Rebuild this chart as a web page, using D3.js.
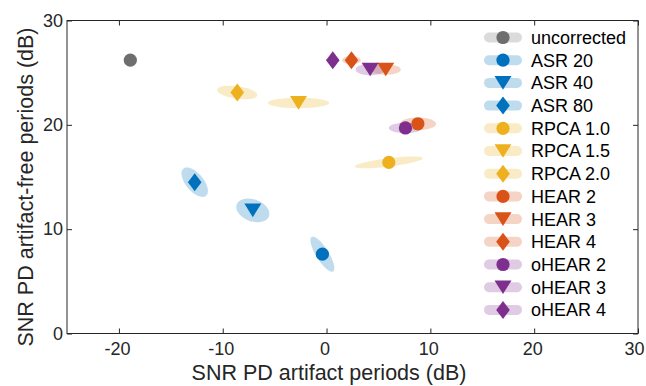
<!DOCTYPE html>
<html>
<head>
<meta charset="utf-8">
<script src="https://cdn.jsdelivr.net/npm/d3@7"></script>
<style>
body { margin: 0; background: #fff; }
svg { font-family: "Liberation Sans", Arial, sans-serif; }
.axis line { stroke: #262626; }
.axis text { fill: #262626; font-size: 18px; }
.label { fill: #262626; font-size: 21.5px; }
.legend text { fill: #000; font-size: 18px; }
</style>
</head>
<body>
<script>
var methods = ["uncorrected", "ASR 20", "ASR 40", "ASR 80", "RPCA 1.0", "RPCA 1.5", "RPCA 2.0",
    "HEAR 2", "HEAR 3", "HEAR 4", "oHEAR 2", "oHEAR 3", "oHEAR 4"];
var shapes = ["circle", "circle", "triangle", "diamond", "circle", "triangle", "diamond",
    "circle", "triangle", "diamond", "circle", "triangle", "diamond"];
var groups = [0, 1, 1, 1, 2, 2, 2, 3, 3, 3, 4, 4, 4];
var groupColors = ["#6e6e6e", "#0072BD", "#EDB120", "#D95319", "#7E2F8E"];

// mean SNR during artifact periods (x) and artifact-free periods (y), dB
var snrArtifact = [-18.9, -0.4, -7.1, -12.7, 6.0, -2.7, -8.6, 8.8, 5.7, 2.4, 7.6, 4.2, 0.6];
var snrClean = [26.2, 7.6, 11.8, 14.5, 16.4, 22.1, 23.1, 20.1, 25.3, 26.2, 19.7, 25.3, 26.2];

// spread ellipses: semi-axes (dB) and tilt (deg)
var ellA = [0.3, 1.95, 1.65, 1.7, 3.3, 2.95, 1.95, 1.75, 1.45, 0.9, 1.6, 1.4, 0.6];
var ellB = [0.25, 0.6, 1.05, 0.85, 0.4, 0.5, 0.6, 0.6, 0.5, 0.4, 0.5, 0.55, 0.3];
var ellAngle = [0, -58, -20, -50, 7, 0, -8, 0, 0, 0, 0, 0, 0];

var xTicks = [-20, -10, 0, 10, 20, 30];
var yTicks = [0, 10, 20, 30];

var w = 646,
    h = 386,
    plotLeft = 67,
    plotRight = 638,
    plotTop = 20.5,
    plotBottom = 333.5;

var xScale = d3.scaleLinear().domain([-25, 30]).range([plotLeft, plotRight]);
var yScale = d3.scaleLinear().domain([0, 30]).range([plotBottom, plotTop]);
var fmt = function(d) { return String(d); };

function markerPath(shape) {
    if (shape === "circle") {
        return d3.symbol().type(d3.symbolCircle).size(Math.PI * 6.6 * 6.6)();
    }
    if (shape === "triangle") {
        return "M-8.5,-6.8L8.5,-6.8L0,6.8Z";
    }
    return "M0,-9L6.8,0L0,9L-6.8,0Z";
}

function ellipsePath(i) {
    var th = ellAngle[i] * Math.PI / 180,
        pts = [];
    for (var k = 0; k < 72; k++) {
        var t = 2 * Math.PI * k / 72;
        var dx = ellA[i] * Math.cos(t) * Math.cos(th) - ellB[i] * Math.sin(t) * Math.sin(th);
        var dy = ellA[i] * Math.cos(t) * Math.sin(th) + ellB[i] * Math.sin(t) * Math.cos(th);
        pts.push([xScale(snrArtifact[i] + dx), yScale(snrClean[i] + dy)]);
    }
    return d3.line().curve(d3.curveLinearClosed)(pts);
}

var svg = d3.select("body").append("svg")
    .attr("width", w)
    .attr("height", h);

var idx = d3.range(methods.length);

// ellipses
svg.append("g")
    .selectAll("path")
    .data(idx)
    .enter()
    .append("path")
    .attr("d", ellipsePath)
    .attr("fill", function(i) { return groupColors[groups[i]]; })
    .attr("fill-opacity", 0.25);

// means
svg.append("g")
    .selectAll("path")
    .data(idx)
    .enter()
    .append("path")
    .attr("d", function(i) { return markerPath(shapes[i]); })
    .attr("transform", function(i) {
        return "translate(" + xScale(snrArtifact[i]) + "," + yScale(snrClean[i]) + ")";
    })
    .attr("fill", function(i) { return groupColors[groups[i]]; });

// axes (box with inward ticks)
var xAxis = svg.append("g")
    .attr("class", "axis")
    .attr("transform", "translate(0," + plotBottom + ")")
    .call(d3.axisBottom(xScale).tickValues(xTicks).tickSizeInner(-5).tickSizeOuter(0).tickPadding(9).tickFormat(fmt));
xAxis.select(".domain").remove();
xAxis.selectAll(".tick text")
    .attr("dx", function(d) { return d === 30 ? -4 : -2; });
svg.append("g")
    .attr("class", "axis")
    .attr("transform", "translate(" + plotLeft + ",0)")
    .call(d3.axisLeft(yScale).tickValues(yTicks).tickSizeInner(-5).tickSizeOuter(0).tickPadding(4).tickFormat(fmt))
    .select(".domain").remove();
svg.append("g")
    .attr("class", "axis")
    .attr("transform", "translate(0," + plotTop + ")")
    .call(d3.axisTop(xScale).tickValues(xTicks).tickSizeInner(-5).tickSizeOuter(0).tickFormat(""))
    .select(".domain").remove();
svg.append("g")
    .attr("class", "axis")
    .attr("transform", "translate(" + plotRight + ",0)")
    .call(d3.axisRight(yScale).tickValues(yTicks).tickSizeInner(-5).tickSizeOuter(0).tickFormat(""))
    .select(".domain").remove();
svg.append("rect")
    .attr("x", plotLeft)
    .attr("y", plotTop)
    .attr("width", plotRight - plotLeft)
    .attr("height", plotBottom - plotTop)
    .attr("fill", "none")
    .attr("stroke", "#262626")
    .attr("stroke-width", 1);

svg.append("text")
    .attr("class", "label")
    .attr("x", 329)
    .attr("y", 380)
    .attr("text-anchor", "middle")
    .text("SNR PD artifact periods (dB)");
svg.append("text")
    .attr("class", "label")
    .attr("transform", "translate(33,187) rotate(-90)")
    .attr("text-anchor", "middle")
    .text("SNR PD artifact-free periods (dB)");

// legend
var legend = svg.append("g").attr("class", "legend");
var rows = legend.selectAll("g")
    .data(idx)
    .enter()
    .append("g")
    .attr("transform", function(i) { return "translate(503," + (37.5 + i * 22.7) + ")"; });
rows.append("line")
    .attr("x1", -14)
    .attr("x2", 14)
    .attr("stroke", function(i) { return groupColors[groups[i]]; })
    .attr("stroke-opacity", 0.25)
    .attr("stroke-width", 10)
    .attr("stroke-linecap", "round");
rows.append("path")
    .attr("d", function(i) { return markerPath(shapes[i]); })
    .attr("fill", function(i) { return groupColors[groups[i]]; });
rows.append("text")
    .attr("x", 28)
    .attr("dy", "0.36em")
    .text(function(i) { return methods[i]; });
</script>
</body>
</html>
